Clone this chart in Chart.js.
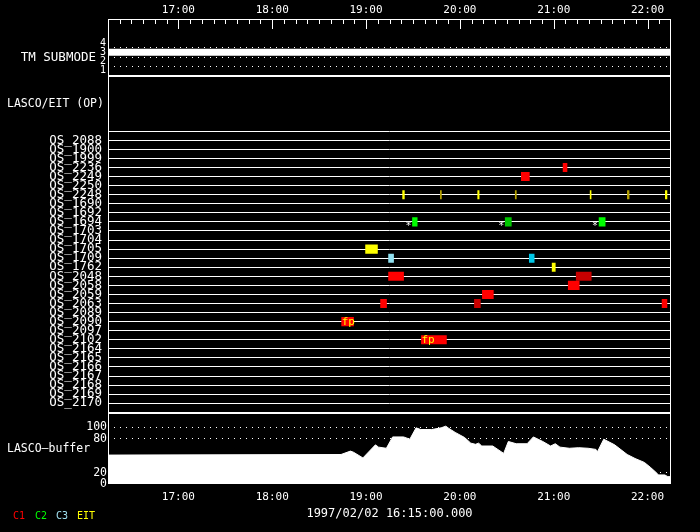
<!DOCTYPE html>
<html><head><meta charset="utf-8">
<script src="https://cdn.jsdelivr.net/npm/chart.js@4.4.1/dist/chart.umd.min.js"></script>
<style>
html,body{margin:0;padding:0;background:#000;width:700px;height:532px;overflow:hidden}
canvas{position:absolute;left:0}
</style></head><body>
<canvas id="c1" width="700" height="77" style="top:0;width:700px;height:77px"></canvas>
<canvas id="c2" width="700" height="338" style="top:76px;width:700px;height:338px"></canvas>
<canvas id="c3" width="700" height="119" style="top:413px;width:700px;height:119px"></canvas>
<script>
// ---------------- data ----------------
const DATE_LABEL = '1997/02/02 16:15:00.000';
const TIME_START = '16:15';
const TIME_END = '22:15';
const HOUR_TICKS = ['17:00','18:00','19:00','20:00','21:00','22:00'];
const MINOR_STEP_MIN = 7.5;

const TM_TICKS = [1, 2, 3, 4];
const TM_GRID = [1.5, 2.5, 3.5];
const TM_TIMES = ['16:15', '22:15'];
const TM_VALUES = [3, 3];

const OS_NAMES = ['OS_2088','OS_1900','OS_1999','OS_2236','OS_2249','OS_2250','OS_2248',
  'OS_1690','OS_1692','OS_1694','OS_1703','OS_1704','OS_1705','OS_1709','OS_1762',
  'OS_2048','OS_2058','OS_2059','OS_2063','OS_2089','OS_2090','OS_2097','OS_2102',
  'OS_2164','OS_2165','OS_2166','OS_2167','OS_2168','OS_2169','OS_2170'];

const BAR_OS = ['OS_2236','OS_2249',
  'OS_2248','OS_2248','OS_2248','OS_2248','OS_2248','OS_2248','OS_2248',
  'OS_1694','OS_1694','OS_1694','OS_1705','OS_1709','OS_1709','OS_1762',
  'OS_2048','OS_2048','OS_2058','OS_2059','OS_2063','OS_2063','OS_2063','OS_2090','OS_2102'];
const BAR_START = ['21:06:00','20:39:18',
  '19:23:24','19:47:30','20:11:24','20:35:24','21:23:18','21:47:06','22:11:24',
  '19:29:42','20:29:00','21:29:00','18:59:42','19:14:24','20:44:24','20:59:00',
  '19:14:24','21:14:24','21:09:18','20:14:24','19:09:18','20:09:18','22:09:18','18:44:24','19:35:24'];
const BAR_END = ['21:08:30','20:44:24',
  '19:24:30','19:48:12','20:12:18','20:36:06','21:23:54','21:48:12','22:12:24',
  '19:32:42','20:32:54','21:32:54','19:07:18','19:17:36','20:47:30','21:01:00',
  '19:24:00','21:24:00','21:16:18','20:21:24','19:13:06','20:13:06','22:12:24','18:52:00','19:51:24'];
const BAR_INSTR = ['C1','C1',
  'EIT','EIT','EIT','EIT','EIT','EIT','EIT',
  'C2','C2','C2','EIT','C3','C3','EIT',
  'C1','C1','C1','C1','C1','C1','C1','C1','C1'];
const BAR_VARIANT = [0,0, 0,1,0,1,0,1,0, 0,1,0, 0, 0,1, 0, 0,1, 0,0, 0,1,0, 0,0];
const BAR_NOTE = ['','', '','','','','','','', '*','*','*', '', '','', '', '','', '','', '','','', 'fp','fp'];

const BUF_TIMES = ['16:15','18:44','18:50','18:52','18:58','19:06','19:08','19:13','19:17','19:24',
  '19:28','19:32','19:35','19:42','19:48','19:51','19:53','19:57','20:03','20:07','20:10','20:12',
  '20:14','20:21','20:28','20:31','20:36','20:43','20:47','20:53','20:58','21:01','21:04','21:10',
  '21:16','21:22','21:27','21:28','21:32','21:39','21:47','21:52','21:58','22:02','22:06','22:07',
  '22:11','22:13','22:15'];
const BUF_VALUES = [51,52,58,56,46,69,65,63,83,83,
  79,99,96,96,99,102,98,91,82,72,70,72,
  67,67,54,75,71,71,83,75,67,71,65,63,
  64,63,61,57,79,69,52,45,38,29,19,16,
  16,13,13];
const BUF_TICKS = [0, 20, 80, 100];
const BUF_GRID = [20, 80, 100];

const LEGEND = ['C1', 'C2', 'C3', 'EIT'];

// ---------------- styles ----------------
const FONT = "'DejaVu Sans Mono', monospace";
const PALETTE = {
  C1: ['#ff0000', '#c80000'],
  C2: ['#00ff00', '#00c800'],
  C3: ['#90e0f0', '#00c8e8'],
  EIT: ['#ffff00', '#b4a000']
};
const LEGEND_COLORS = {C1:'#ff0000', C2:'#00ff00', C3:'#a0e0f0', EIT:'#ffff00'};

Chart.defaults.font.family = FONT;
Chart.defaults.color = '#fff';

function toMin(s) {
  const p = s.split(':').map(Number);
  return p[0] * 60 + p[1] + (p[2] || 0) / 60;
}
function fmt(v) {
  const h = Math.floor(v / 60), m = Math.round(v - h * 60);
  return String(h).padStart(2, '0') + ':' + String(m).padStart(2, '0');
}
const X_MIN = toMin(TIME_START), X_MAX = toMin(TIME_END);
const hourVals = HOUR_TICKS.map(toMin);

function fixW(w) { return a => { a.width = w; a.paddingTop = 0; a.paddingBottom = 0; a.paddingLeft = 0; a.paddingRight = 0; }; }
function fixH(h) { return a => { a.height = h; a.paddingTop = 0; a.paddingBottom = 0; a.paddingLeft = 0; a.paddingRight = 0; }; }

const framePlugin = {
  id: 'frame',
  afterDraw(chart) {
    const {ctx, chartArea: a} = chart;
    ctx.save();
    ctx.strokeStyle = '#fff';
    ctx.lineWidth = 1;
    const x0 = Math.floor(a.left) + 0.5, x1 = Math.floor(a.right) - 0.5;
    const y0 = Math.floor(a.top) + 0.5, y1 = Math.floor(a.bottom) - 0.5;
    ctx.strokeRect(x0, y0, x1 - x0, y1 - y0);
    ctx.restore();
  }
};
const textPlugin = {
  id: 'texts',
  afterDraw(chart, args, opts) {
    const ctx = chart.ctx;
    (opts.items || []).forEach(t => {
      ctx.save();
      ctx.font = (t.size || 12) + 'px ' + FONT;
      ctx.fillStyle = t.color || '#fff';
      ctx.textAlign = t.align || 'left';
      ctx.textBaseline = 'middle';
      ctx.fillText(t.text, t.x, t.y);
      ctx.restore();
    });
  }
};
Chart.register(framePlugin, textPlugin);

const innerTicksPlugin = {
  id: 'innerTicks',
  afterDraw(chart) {
    const {ctx, chartArea: a} = chart;
    const xs = chart.scales.x;
    ctx.save();
    ctx.strokeStyle = '#fff';
    ctx.lineWidth = 1;
    for (let m = X_MIN + MINOR_STEP_MIN; m < X_MAX; m += MINOR_STEP_MIN) {
      const px = Math.round(xs.getPixelForValue(m)) + 0.5;
      const len = (m % 60 === 0) ? 10 : 5;
      ctx.beginPath();
      ctx.moveTo(px, a.top);
      ctx.lineTo(px, a.top + len);
      ctx.stroke();
    }
    ctx.restore();
  }
};

const notesPlugin = {
  id: 'notes',
  afterDatasetsDraw(chart) {
    const ctx = chart.ctx;
    const meta = chart.getDatasetMeta(0);
    meta.data.forEach((el, i) => {
      const note = BAR_NOTE[i];
      if (!note) return;
      const left = Math.min(el.x, el.base);
      ctx.save();
      ctx.textBaseline = 'alphabetic';
      if (note === 'fp') {
        ctx.font = '11px ' + FONT;
        ctx.fillStyle = '#ffff00';
        ctx.textAlign = 'left';
        ctx.fillText('fp', left, el.y + 3.5);
      } else {
        ctx.font = '10px ' + FONT;
        ctx.fillStyle = '#fff';
        ctx.textAlign = 'right';
        ctx.fillText(note, left - 1, el.y + 7.5);
      }
      ctx.restore();
    });
  }
};

const base = {responsive: false, animation: false, devicePixelRatio: 1};

// ---------- chart 1: TM submode ----------
new Chart(document.getElementById('c1'), {
  type: 'line',
  data: {datasets: [{
    data: TM_TIMES.map((t, i) => ({x: toMin(t), y: TM_VALUES[i]})),
    borderColor: '#fff', borderWidth: 7, pointRadius: 0, borderCapStyle: 'butt'
  }]},
  plugins: [innerTicksPlugin],
  options: Object.assign({}, base, {
    layout: {padding: {left: 0, right: 29, top: 0, bottom: 1}},
    plugins: {legend: {display: false}, tooltip: {enabled: false},
      texts: {items: [{text: 'TM SUBMODE', x: 96, y: 57.5, align: 'right', size: 12.5}]}},
    scales: {
      x: {type: 'linear', position: 'top', min: X_MIN, max: X_MAX,
        afterBuildTicks: a => { a.ticks = hourVals.map(v => ({value: v})); },
        afterFit: fixH(19),
        ticks: {callback: v => fmt(v), font: {size: 11}, padding: 2, maxRotation: 0, autoSkip: false},
        grid: {display: false, drawTicks: false}, border: {display: false}},
      y: {type: 'linear', position: 'left', min: 0.45, max: 6.6,
        afterBuildTicks: a => { a.ticks = TM_TICKS.map(v => ({value: v})); },
        afterFit: fixW(108),
        ticks: {font: {size: 10}, padding: 2, autoSkip: false},
        grid: {display: false, drawTicks: false}, border: {display: false}},
      yGrid: {type: 'linear', position: 'left', min: 0.45, max: 6.6,
        afterBuildTicks: a => { a.ticks = TM_GRID.map(v => ({value: v})); },
        afterFit: fixW(0),
        ticks: {display: false},
        grid: {color: '#fff', lineWidth: 1, drawTicks: false},
        border: {display: false, dash: [1, 5]}}
    }
  })
});

// ---------- chart 2: LASCO/EIT OP ----------
const barData = BAR_OS.map((os, i) => ({x: [toMin(BAR_START[i]), toMin(BAR_END[i])], y: OS_NAMES.indexOf(os) + 0.5}));
const barColors = BAR_INSTR.map((k, i) => PALETTE[k][BAR_VARIANT[i]]);
const OP_MIN = -5.97, OP_MAX = OS_NAMES.length;
new Chart(document.getElementById('c2'), {
  type: 'bar',
  data: {datasets: [{data: barData, backgroundColor: barColors, borderWidth: 0, barThickness: 8.4}]},
  plugins: [notesPlugin],
  options: Object.assign({}, base, {
    indexAxis: 'y',
    layout: {padding: {left: 0, right: 29, top: 0, bottom: 0.6}},
    plugins: {legend: {display: false}, tooltip: {enabled: false},
      texts: {items: [{text: 'LASCO/EIT (OP)', x: 7, y: 28, align: 'left', size: 11.5}]}},
    scales: {
      x: {type: 'linear', min: X_MIN, max: X_MAX, display: false},
      y: {type: 'linear', reverse: true, min: OP_MIN, max: OP_MAX, position: 'left',
        afterBuildTicks: a => { a.ticks = OS_NAMES.map((_, i) => ({value: i + 0.5})); },
        afterFit: fixW(108),
        ticks: {callback: (v, i) => OS_NAMES[i], font: {size: 12.5}, padding: 6, autoSkip: false},
        grid: {display: false, drawTicks: false}, border: {display: false}},
      yGrid: {type: 'linear', reverse: true, min: OP_MIN, max: OP_MAX, position: 'left',
        afterBuildTicks: a => { a.ticks = OS_NAMES.map((_, i) => ({value: i})); },
        afterFit: fixW(0),
        ticks: {display: false},
        grid: {color: '#fff', lineWidth: 1, drawTicks: false},
        border: {display: false}}
    }
  })
});

// ---------- chart 3: LASCO buffer ----------
const legendItems = [];
const legendX = [13, 35, 56, 77];
LEGEND.forEach((k, i) => legendItems.push({text: k, x: legendX[i], y: 103, color: LEGEND_COLORS[k], size: 10}));
legendItems.push({text: 'LASCO\u2014buffer', x: 7, y: 36, size: 11.5});
new Chart(document.getElementById('c3'), {
  type: 'line',
  data: {datasets: [{
    data: BUF_TIMES.map((t, i) => ({x: toMin(t), y: BUF_VALUES[i]})),
    borderColor: '#fff', backgroundColor: '#fff', borderWidth: 1, pointRadius: 0, fill: 'origin', tension: 0
  }]},
  options: Object.assign({}, base, {
    layout: {padding: {left: 0, right: 29, top: 0.4, bottom: 0}},
    plugins: {legend: {display: false}, tooltip: {enabled: false}, filler: {propagate: false},
      texts: {items: legendItems}},
    scales: {
      x: {type: 'linear', position: 'bottom', min: X_MIN, max: X_MAX,
        afterBuildTicks: a => { a.ticks = hourVals.map(v => ({value: v})); },
        afterFit: fixH(48),
        ticks: {callback: v => fmt(v), font: {size: 11}, padding: 7, maxRotation: 0, autoSkip: false},
        grid: {display: false, drawTicks: false}, border: {display: false},
        title: {display: true, text: DATE_LABEL, font: {size: 12}, padding: {top: 0, bottom: 10.8}}},
      y: {type: 'linear', position: 'left', min: 0, max: 124.5,
        afterBuildTicks: a => { a.ticks = BUF_TICKS.map(v => ({value: v})); },
        afterFit: fixW(108),
        ticks: {font: {size: 11.5}, padding: 1, autoSkip: false},
        grid: {color: c => (BUF_GRID.includes(c.tick && c.tick.value) ? '#fff' : 'rgba(0,0,0,0)'), lineWidth: 1, drawTicks: false},
        border: {display: false, dash: [1, 5]}}
    }
  })
});
</script>
</body></html>
